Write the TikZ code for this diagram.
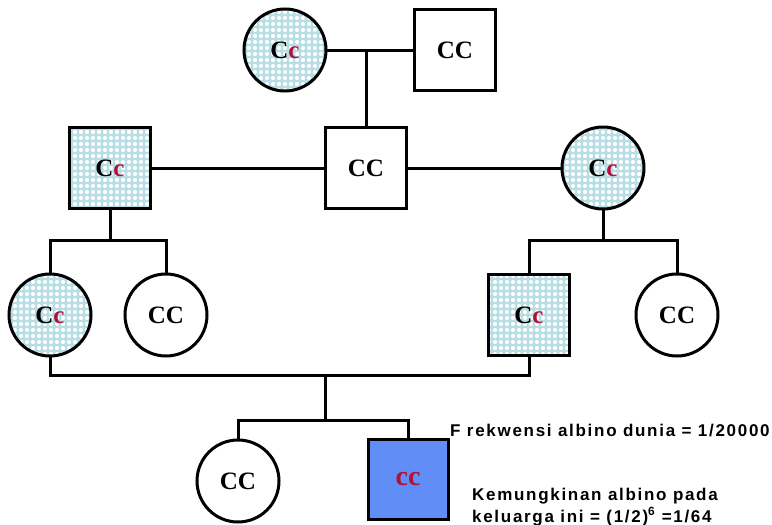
\documentclass[tikz,border=0pt]{standalone}
\usepackage{fontspec}
\setmainfont{Liberation Serif}
\newfontfamily\labfont[LetterSpace=10]{Liberation Sans}
\usetikzlibrary{patterns}
\definecolor{bub}{RGB}{182,222,228}
\definecolor{alred}{RGB}{176,16,58}
\definecolor{albblue}{RGB}{96,142,246}
\pgfdeclarepatternformonly{bubbles}{\pgfqpoint{-1pt}{-1pt}}{\pgfqpoint{7pt}{7pt}}{\pgfqpoint{6pt}{6pt}}{%
  \pgfpathcircle{\pgfqpoint{3pt}{3pt}}{2.1pt}\pgfusepath{fill}}
\tikzset{
  person/.style={draw=black, line width=3pt, inner sep=0pt, font=\fontsize{25}{27}\selectfont\bfseries},
  fem/.style={person, circle, minimum size=82pt},
  mal/.style={person, rectangle, minimum size=81pt},
  carrier/.style={preaction={fill=bub}, pattern=bubbles, pattern color=white},
  link/.style={line width=3pt, line cap=rect},
  note/.style={anchor=base west, inner sep=0pt, font=\labfont\bfseries\fontsize{17}{19}\selectfont},
}
\newcommand{\het}{C\textcolor{alred}{c}}
\begin{document}
\begin{tikzpicture}[x=1pt,y=-1pt]
\useasboundingbox (0,0) rectangle (772,525);
% connectors
\coordinate (m1) at (366,50);
\coordinate (s1) at (110,240);
\coordinate (s2) at (603,240);
\coordinate (b1) at (325,375);
\coordinate (b2) at (325,420);
% generation I
\node[fem, carrier] (g1) at (285,50) {\het};
\node[mal] (g2) at (455,50) {CC};
% generation II
\node[mal, carrier] (p1) at (110,168) {\het};
\node[mal] (p2) at (366,168) {CC};
\node[fem, carrier] (p3) at (603,168) {\het};
% generation III
\node[fem, carrier] (c1) at (50,315) {\het};
\node[fem] (c2) at (166,315) {CC};
\node[mal, carrier] (c3) at (529,315) {\het};
\node[fem] (c4) at (677,315) {CC};
% generation IV
\node[fem] (k1) at (238,481) {CC};
\node[mal, fill=albblue, minimum size=80pt, font=\fontsize{28}{30}\selectfont\bfseries] (k2) at (408,479) {\textcolor{alred}{cc}};
\draw[link] (g1.east) -- (g2.west);
\draw[link] (m1) -- (p2.north);
\draw[link] (p1.east) -- (p2.west);
\draw[link] (p2.east) -- (p3.west);
\draw[link] (p1.south) -- (s1);
\draw[link] (c1.north) -- (c1.north |- s1) -- (c2.north |- s1) -- (c2.north);
\draw[link] (p3.south) -- (s2);
\draw[link] (c3.north) -- (c3.north |- s2) -- (c4.north |- s2) -- (c4.north);
\draw[link] (c1.south) -- (c1.south |- b1) -- (c3.south |- b1) -- (c3.south);
\draw[link] (b1) -- (b2);
\draw[link] (k1.north) -- (k1.north |- b2) -- (k2.north |- b2) -- (k2.north);
% notes
\node[note] (n1) at (450,436) {F rekwensi albino dunia = 1/20000};
\node[note] (n2) at (472,500) {Kemungkinan albino pada};
\node[note] (n3) at (472,522) {keluarga ini = (1/2)\textsuperscript{6} =1/64};
\end{tikzpicture}
\end{document}
